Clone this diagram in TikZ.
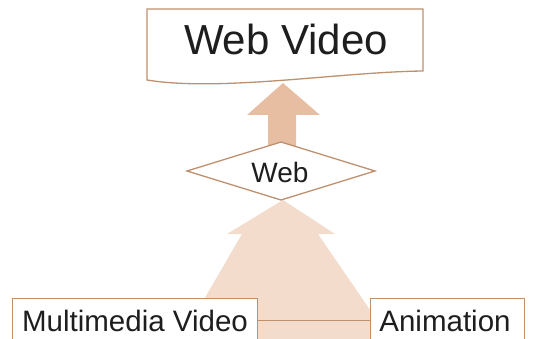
\documentclass[tikz,border=0pt]{standalone}
\usepackage{fontspec}
\setmainfont{Liberation Sans}
\definecolor{edgebrown}{HTML}{BF906E}
\definecolor{arrowdark}{HTML}{E8BEA2}
\definecolor{arrowlight}{HTML}{F3DCCB}
\definecolor{inkgray}{HTML}{1E1E1E}
\tikzset{
  boxline/.style={draw=edgebrown, line width=1.3pt, fill=white},
  label/.style={inner sep=0pt, anchor=base, text=inkgray},
}
\begin{document}
\begin{tikzpicture}[x=1pt,y=-1pt]
\useasboundingbox (0,0) rectangle (534,339);
\clip (0,0) rectangle (534,339);

% wide lower arrow rising from the two sources
\fill[arrowlight] (283,200) -- (335,234) -- (318,234) -- (390,339) -- (181,339)
  -- (242,234) -- (227,234) -- cycle;

% narrow upper arrow towards the title
\fill[arrowdark] (283,83) -- (320,115) -- (296,115) -- (296,150) -- (268,150)
  -- (268,115) -- (247,115) -- cycle;

% title box with a wavy lower edge
\draw[boxline] (147,9) -- (423,9) -- (423,71)
  .. controls (340,72) and (220,92) .. (147,80) -- cycle;
\node[label, font=\fontsize{42}{50}\selectfont] (title) at (286,55) {Web Video};

% diamond in the middle
\coordinate (dl) at (187,171);
\coordinate (dt) at (281,142);
\coordinate (dr) at (375,171);
\coordinate (db) at (281,200);
\draw[boxline] (dl) -- (dt) -- (dr) -- (db) -- cycle;
\node[label, font=\fontsize{28}{34}\selectfont] (web) at (280,182) {Web};

% source boxes at the bottom
\node[boxline, minimum width=245pt, minimum height=44pt, anchor=north west,
  inner sep=0pt] (mmbox) at (12,298) {};
\node[boxline, minimum width=154pt, minimum height=44pt, anchor=north west,
  inner sep=0pt] (animbox) at (370,298) {};
\draw[edgebrown, line width=1.3pt] (mmbox.east) -- (animbox.west);

\node[label, font=\fontsize{29.5}{35}\selectfont] (mmtext) at (135,331) {Multimedia Video};
\node[label, font=\fontsize{29.5}{35}\selectfont] (animtext) at (445,331) {Animation};
\end{tikzpicture}
\end{document}
